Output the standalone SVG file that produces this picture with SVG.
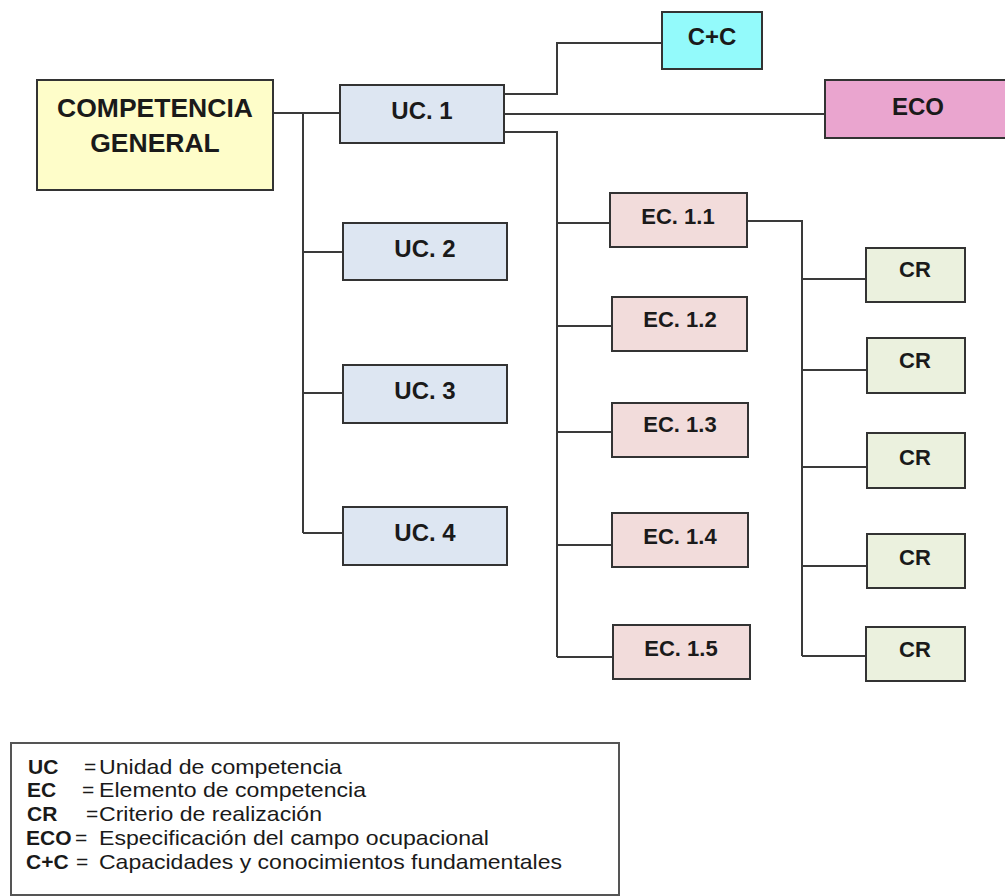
<svg xmlns="http://www.w3.org/2000/svg" width="1005" height="896" viewBox="0 0 1005 896">
<style>
.box{stroke:#333;stroke-width:2}
.cg{fill:#fefdc9}
.uc{fill:#dde6f2}
.cc{fill:#93fafb}
.eco{fill:#eaa5cf}
.ec{fill:#f2dcdb}
.cr{fill:#ebf1de}
.t{font-family:"Liberation Sans",Arial,sans-serif;font-weight:bold;fill:#1a1a1a;text-anchor:middle}
.t26{font-size:26.5px}
.t24{font-size:24px}
.t22{font-size:22px}
.conn{fill:none;stroke:#3a3a3a;stroke-width:2}
.lg{font-family:"Liberation Sans",Arial,sans-serif;font-size:21px;fill:#1a1a1a}
.lb{font-weight:bold}
</style>
<rect width="1005" height="896" fill="#fff"/>
<g id="connectors" class="conn">
<path d="M273 113 H340"/>
<path d="M303 113 V533"/>
<path d="M303 252 H343 M303 393 H343 M303 533 H343"/>
<path d="M504 94 H557 V43 H662"/>
<path d="M504 114 H825"/>
<path d="M504 132 H557 V657"/>
<path d="M557 223 H610 M557 326 H612 M557 432 H612 M557 545 H612 M557 657 H613"/>
<path d="M747 221 H802 V656"/>
<path d="M802 279 H866 M802 370 H867 M802 467 H867 M802 566 H867 M802 656 H866"/>
</g>
<g id="cg">
<rect class="box cg" x="37" y="80" width="236" height="110"/>
<text class="t t26" x="155" y="117">COMPETENCIA</text>
<text class="t t26" x="155" y="152">GENERAL</text>
</g>
<g id="uc1"><rect class="box uc" x="340" y="85" width="164" height="58"/><text class="t t24" x="422" y="119">UC. 1</text></g>
<g id="uc2"><rect class="box uc" x="343" y="223" width="164" height="57"/><text class="t t24" x="425" y="257">UC. 2</text></g>
<g id="uc3"><rect class="box uc" x="343" y="365" width="164" height="58"/><text class="t t24" x="425" y="399">UC. 3</text></g>
<g id="uc4"><rect class="box uc" x="343" y="507" width="164" height="58"/><text class="t t24" x="425" y="541">UC. 4</text></g>
<g id="cc"><rect class="box cc" x="662" y="12" width="100" height="57"/><text class="t t24" x="712" y="45">C+C</text></g>
<g id="eco"><rect class="box eco" x="825" y="80" width="186" height="58"/><text class="t t24" x="918" y="115">ECO</text></g>
<g id="ec11"><rect class="box ec" x="610" y="193" width="137" height="54"/><text class="t t22" x="678" y="224">EC. 1.1</text></g>
<g id="ec12"><rect class="box ec" x="612" y="297" width="135" height="54"/><text class="t t22" x="680" y="327">EC. 1.2</text></g>
<g id="ec13"><rect class="box ec" x="612" y="403" width="136" height="54"/><text class="t t22" x="680" y="432">EC. 1.3</text></g>
<g id="ec14"><rect class="box ec" x="612" y="513" width="136" height="54"/><text class="t t22" x="680" y="544">EC. 1.4</text></g>
<g id="ec15"><rect class="box ec" x="613" y="625" width="137" height="54"/><text class="t t22" x="681" y="656">EC. 1.5</text></g>
<g id="cr1"><rect class="box cr" x="866" y="248" width="99" height="54"/><text class="t t22" x="915" y="277">CR</text></g>
<g id="cr2"><rect class="box cr" x="867" y="338" width="98" height="55"/><text class="t t22" x="915" y="368">CR</text></g>
<g id="cr3"><rect class="box cr" x="867" y="433" width="98" height="55"/><text class="t t22" x="915" y="465">CR</text></g>
<g id="cr4"><rect class="box cr" x="867" y="534" width="98" height="54"/><text class="t t22" x="915" y="565">CR</text></g>
<g id="cr5"><rect class="box cr" x="866" y="627" width="99" height="54"/><text class="t t22" x="915" y="657">CR</text></g>
<g id="legend">
<rect x="11" y="743" width="608" height="152" fill="#fff" stroke="#555" stroke-width="2"/>
<text class="lg lb" x="28" y="773.5">UC</text>
<text class="lg" x="84" y="773.5">=</text>
<text class="lg" x="99" y="773.5" textLength="243" lengthAdjust="spacingAndGlyphs">Unidad de competencia</text>
<text class="lg lb" x="27" y="797.3">EC</text>
<text class="lg" x="82" y="797.3">=</text>
<text class="lg" x="99" y="797.3" textLength="267" lengthAdjust="spacingAndGlyphs">Elemento de competencia</text>
<text class="lg lb" x="27" y="821">CR</text>
<text class="lg" x="86" y="821">=</text>
<text class="lg" x="99" y="821" textLength="223" lengthAdjust="spacingAndGlyphs">Criterio de realización</text>
<text class="lg lb" x="26" y="844.8">ECO</text>
<text class="lg" x="75" y="844.8">=</text>
<text class="lg" x="99" y="844.8" textLength="390" lengthAdjust="spacingAndGlyphs">Especificación del campo ocupacional</text>
<text class="lg lb" x="26" y="868.5">C+C</text>
<text class="lg" x="76" y="868.5">=</text>
<text class="lg" x="99" y="868.5" textLength="463" lengthAdjust="spacingAndGlyphs">Capacidades y conocimientos fundamentales</text>
</g>
</svg>
